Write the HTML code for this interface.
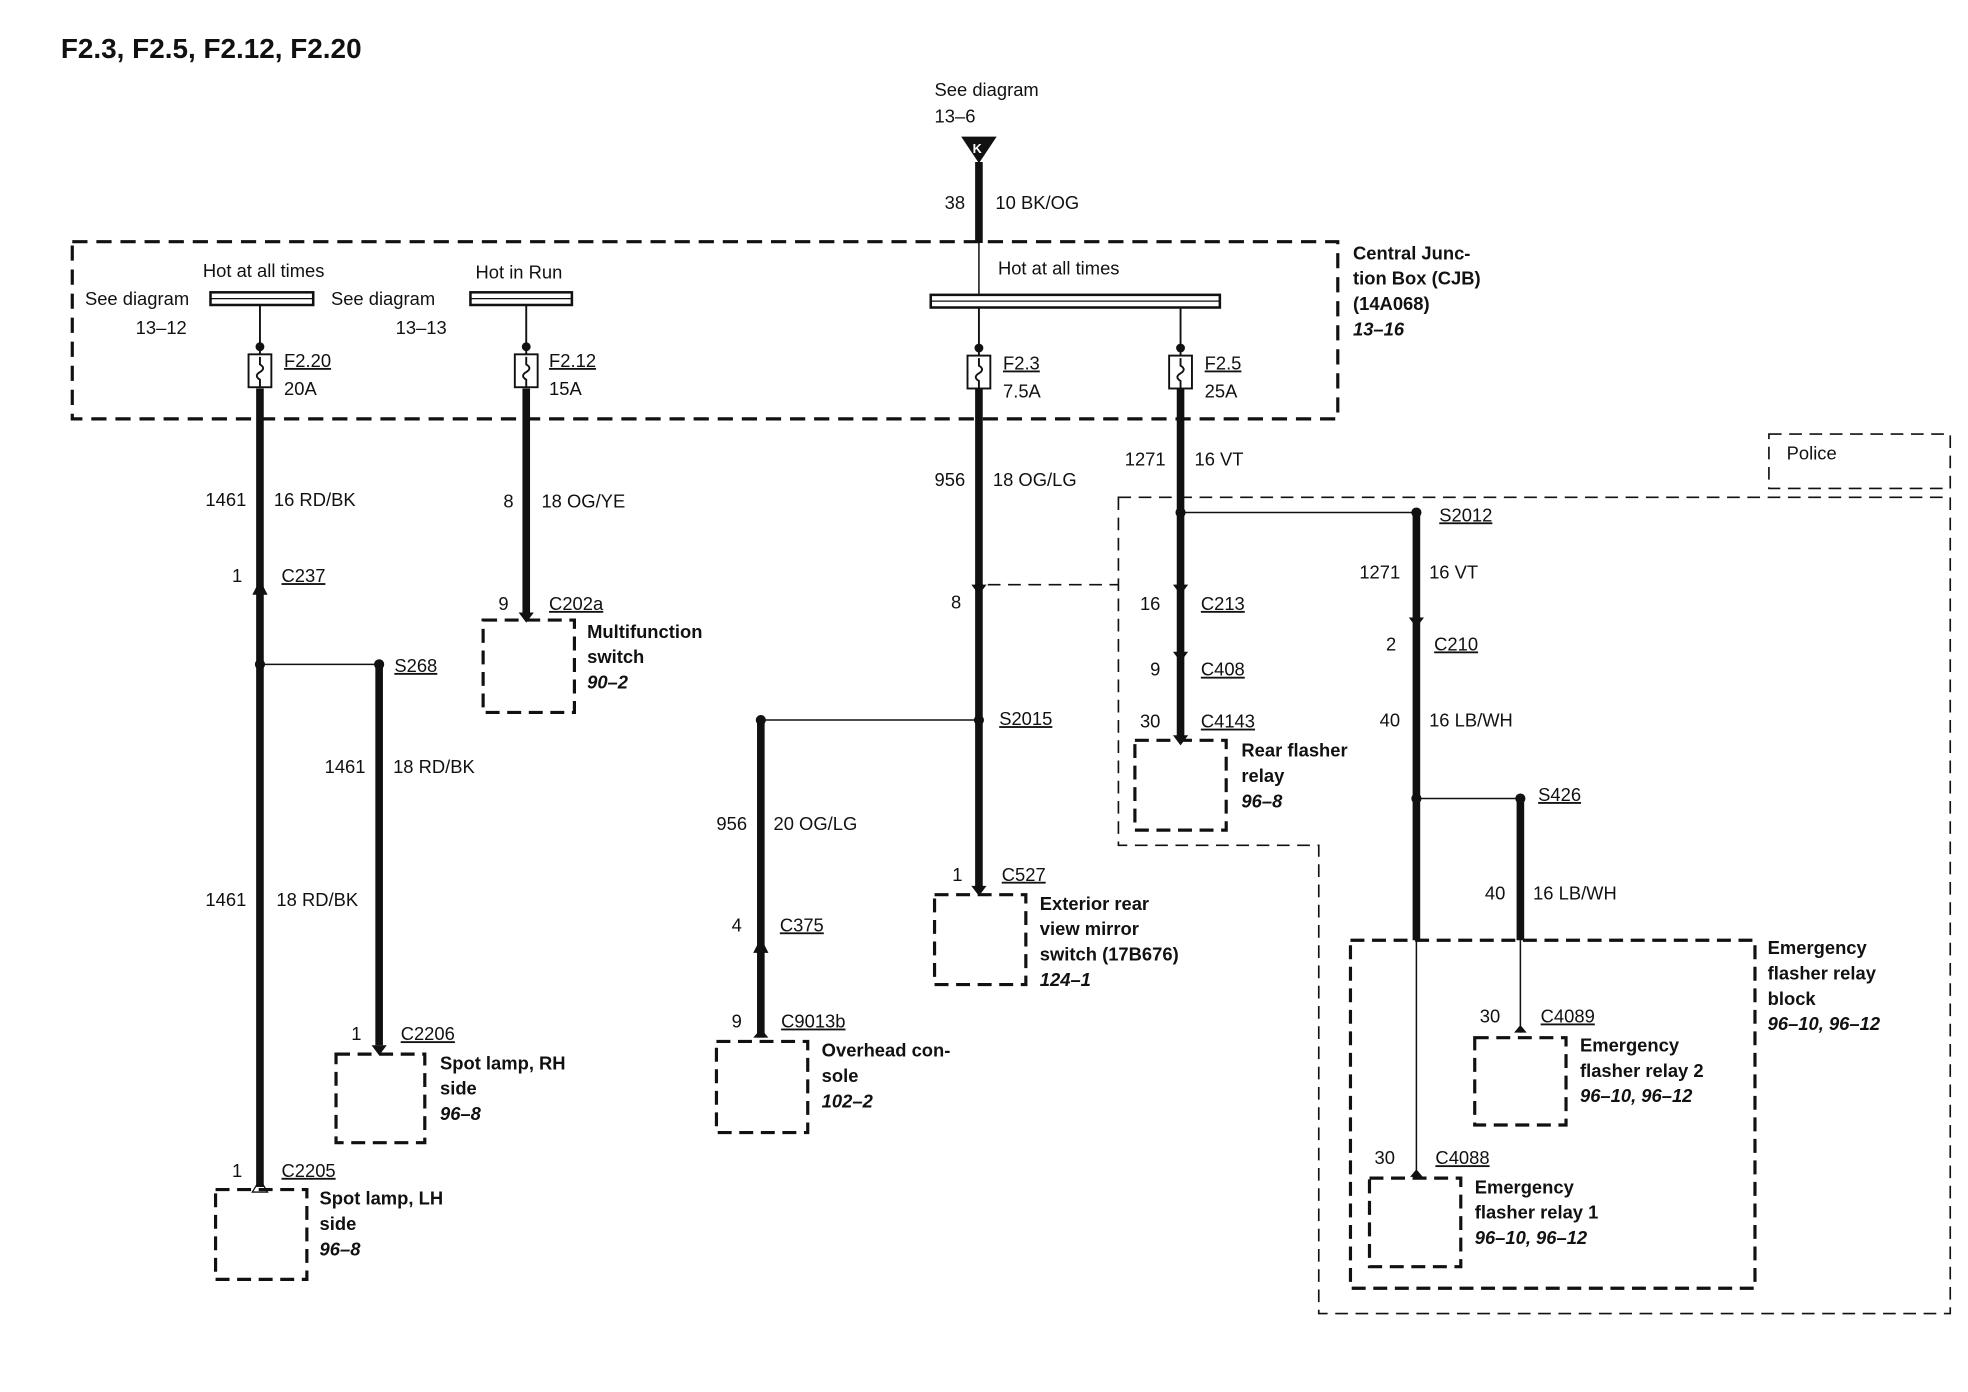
<!DOCTYPE html>
<html><head><meta charset="utf-8"><style>
html,body{margin:0;padding:0;background:#fff;}
svg{display:block;}
text{font-family:"Liberation Sans",sans-serif;font-size:14.5px;fill:#111;}
.b{font-weight:bold;}
.i{font-weight:bold;font-style:italic;}
.u{text-decoration:underline;}
</style></head><body>
<svg width="1968" height="1392" viewBox="0 0 1552 1100" preserveAspectRatio="none" xmlns="http://www.w3.org/2000/svg">
<rect width="1552" height="1100" fill="#fff"/>
<text x="48" y="46" class="b" style="font-size:22px">F2.3, F2.5, F2.12, F2.20</text>

<!-- top source -->
<text x="737" y="76">See diagram</text>
<text x="737" y="97">13–6</text>
<polygon points="758,108 786,108 772,129" fill="#111"/>
<text x="767" y="121" style="font-size:10px;fill:#fff;font-weight:bold">K</text>
<line x1="772" y1="128" x2="772" y2="192" stroke="#111" stroke-width="6"/>
<text x="745" y="165">38</text><text x="785" y="165">10 BK/OG</text>

<!-- CJB box -->
<rect x="57" y="191" width="998" height="140" fill="none" stroke="#111" stroke-width="2.5" stroke-dasharray="12,7"/>
<text x="1067" y="205" class="b">Central Junc-</text>
<text x="1067" y="225" class="b">tion Box (CJB)</text>
<text x="1067" y="245" class="b">(14A068)</text>
<text x="1067" y="265" class="i">13–16</text>

<text x="160" y="219">Hot at all times</text>
<text x="67" y="241">See diagram</text>
<rect x="166" y="231" width="81" height="10" fill="none" stroke="#111" stroke-width="2"/>
<line x1="166" y1="236" x2="247" y2="236" stroke="#111" stroke-width="1"/>
<text x="107" y="264">13–12</text>
<text x="261" y="241">See diagram</text>
<text x="375" y="220">Hot in Run</text>
<rect x="371" y="231" width="80" height="10" fill="none" stroke="#111" stroke-width="2"/>
<line x1="371" y1="236" x2="451" y2="236" stroke="#111" stroke-width="1"/>
<text x="312" y="264">13–13</text>
<text x="787" y="217">Hot at all times</text>
<rect x="734" y="233" width="228" height="10" fill="none" stroke="#111" stroke-width="2"/>
<line x1="734" y1="238" x2="962" y2="238" stroke="#111" stroke-width="1"/>
<line x1="772" y1="192" x2="772" y2="233" stroke="#111" stroke-width="1.2"/>

<!-- fuses -->
<g stroke="#111" fill="none" stroke-width="1.5">
<line x1="205" y1="241" x2="205" y2="280"/><rect x="196" y="280" width="18" height="26"/><path d="M205 282 v6 q5 3 0 6 q-5 3 0 6 v6"/>
<line x1="415" y1="241" x2="415" y2="280"/><rect x="406" y="280" width="18" height="26"/><path d="M415 282 v6 q5 3 0 6 q-5 3 0 6 v6"/>
<line x1="772" y1="243" x2="772" y2="281"/><rect x="763" y="281" width="18" height="26"/><path d="M772 283 v6 q5 3 0 6 q-5 3 0 6 v6"/>
<line x1="931" y1="243" x2="931" y2="281"/><rect x="922" y="281" width="18" height="26"/><path d="M931 283 v6 q5 3 0 6 q-5 3 0 6 v6"/>
</g>
<g fill="#111"><circle cx="205" cy="274" r="3.5"/><circle cx="415" cy="274" r="3.5"/><circle cx="772" cy="275" r="3.5"/><circle cx="931" cy="275" r="3.5"/></g>
<text x="224" y="290" class="u">F2.20</text><text x="224" y="312">20A</text>
<text x="433" y="290" class="u">F2.12</text><text x="433" y="312">15A</text>
<text x="791" y="292" class="u">F2.3</text><text x="791" y="314">7.5A</text>
<text x="950" y="292" class="u">F2.5</text><text x="950" y="314">25A</text>

<!-- thick wires -->
<g stroke="#111" stroke-width="6">
<line x1="205" y1="307" x2="205" y2="938"/>
<line x1="299" y1="525" x2="299" y2="826"/>
<line x1="415" y1="307" x2="415" y2="486"/>
<line x1="772" y1="307" x2="772" y2="702"/>
<line x1="600" y1="569" x2="600" y2="820"/>
<line x1="931" y1="307" x2="931" y2="583"/>
<line x1="1117" y1="405" x2="1117" y2="743"/>
<line x1="1199" y1="631" x2="1199" y2="743"/>
</g>
<g stroke="#111" stroke-width="1.2">
<line x1="205" y1="525" x2="299" y2="525"/>
<line x1="600" y1="569" x2="772" y2="569"/>
<line x1="931" y1="405" x2="1117" y2="405"/>
<line x1="1117" y1="631" x2="1199" y2="631"/>
<line x1="1117" y1="743" x2="1117" y2="928"/>
<line x1="1199" y1="743" x2="1199" y2="816"/>
</g>
<g fill="#111">
<circle cx="205" cy="525" r="4"/><circle cx="299" cy="525" r="4"/>
<circle cx="772" cy="569" r="4"/><circle cx="600" cy="569" r="4"/>
<circle cx="772" cy="462" r="3"/>
<circle cx="931" cy="405" r="4"/><circle cx="1117" cy="405" r="4"/>
<circle cx="1117" cy="631" r="4"/><circle cx="1199" cy="631" r="4"/>
<!-- arrows -->
<polygon points="199,470 211,470 205,458"/>
<polygon points="199,942 211,942 205,932" fill="none" stroke="#111"/>
<polygon points="293,826 305,826 299,834"/>
<polygon points="409,484 421,484 415,492"/>
<polygon points="766,462 778,462 772,470"/>
<polygon points="766,700 778,700 772,708"/>
<polygon points="594,753 606,753 600,741"/>
<polygon points="594,820 606,820 600,813"/>
<polygon points="925,462 937,462 931,470"/>
<polygon points="925,515 937,515 931,523"/>
<polygon points="925,581 937,581 931,589"/>
<polygon points="1111,488 1123,488 1117,496"/>
<polygon points="1194,816 1204,816 1199,810"/>
<polygon points="1112,930 1122,930 1117,924"/>
</g>

<!-- labels -->
<text x="162" y="400">1461</text><text x="216" y="400">16 RD/BK</text>
<text x="183" y="460">1</text><text x="222" y="460" class="u">C237</text>
<text x="311" y="531" class="u">S268</text>
<text x="256" y="611">1461</text><text x="310" y="611">18 RD/BK</text>
<text x="162" y="716">1461</text><text x="218" y="716">18 RD/BK</text>
<text x="277" y="822">1</text><text x="316" y="822" class="u">C2206</text>
<text x="347" y="845" class="b">Spot lamp, RH</text><text x="347" y="865" class="b">side</text><text x="347" y="885" class="i">96–8</text>
<text x="183" y="930">1</text><text x="222" y="930" class="u">C2205</text>
<text x="252" y="952" class="b">Spot lamp, LH</text><text x="252" y="972" class="b">side</text><text x="252" y="992" class="i">96–8</text>

<text x="397" y="401">8</text><text x="427" y="401">18 OG/YE</text>
<text x="393" y="482">9</text><text x="433" y="482" class="u">C202a</text>
<text x="463" y="504" class="b">Multifunction</text><text x="463" y="524" class="b">switch</text><text x="463" y="544" class="i">90–2</text>

<text x="737" y="384">956</text><text x="783" y="384">18 OG/LG</text>
<text x="750" y="481">8</text>
<text x="788" y="573" class="u">S2015</text>
<text x="565" y="656">956</text><text x="610" y="656">20 OG/LG</text>
<text x="577" y="736">4</text><text x="615" y="736" class="u">C375</text>
<text x="577" y="812">9</text><text x="616" y="812" class="u">C9013b</text>
<text x="648" y="835" class="b">Overhead con-</text><text x="648" y="855" class="b">sole</text><text x="648" y="875" class="i">102–2</text>
<text x="751" y="696">1</text><text x="790" y="696" class="u">C527</text>
<text x="820" y="719" class="b">Exterior rear</text><text x="820" y="739" class="b">view mirror</text><text x="820" y="759" class="b">switch (17B676)</text><text x="820" y="779" class="i">124–1</text>

<text x="887" y="368">1271</text><text x="942" y="368">16 VT</text>
<text x="1135" y="412" class="u">S2012</text>
<text x="899" y="482">16</text><text x="947" y="482" class="u">C213</text>
<text x="907" y="534">9</text><text x="947" y="534" class="u">C408</text>
<text x="899" y="575">30</text><text x="947" y="575" class="u">C4143</text>
<text x="979" y="598" class="b">Rear flasher</text><text x="979" y="618" class="b">relay</text><text x="979" y="638" class="i">96–8</text>

<text x="1072" y="457">1271</text><text x="1127" y="457">16 VT</text>
<text x="1093" y="514">2</text><text x="1131" y="514" class="u">C210</text>
<text x="1088" y="574">40</text><text x="1127" y="574">16 LB/WH</text>
<text x="1213" y="633" class="u">S426</text>
<text x="1171" y="711">40</text><text x="1209" y="711">16 LB/WH</text>
<text x="1394" y="754" class="b">Emergency</text><text x="1394" y="774" class="b">flasher relay</text><text x="1394" y="794" class="b">block</text><text x="1394" y="814" class="i">96–10,  96–12</text>
<text x="1167" y="808">30</text><text x="1215" y="808" class="u">C4089</text>
<text x="1246" y="831" class="b">Emergency</text><text x="1246" y="851" class="b">flasher relay 2</text><text x="1246" y="871" class="i">96–10, 96–12</text>
<text x="1084" y="920">30</text><text x="1132" y="920" class="u">C4088</text>
<text x="1163" y="943" class="b">Emergency</text><text x="1163" y="963" class="b">flasher relay 1</text><text x="1163" y="983" class="i">96–10, 96–12</text>

<!-- police region -->
<g fill="none" stroke="#111" stroke-width="1.3" stroke-dasharray="10,6">
<path d="M882 393 H1538 V1038 H1040 V668 H882 Z"/>
<line x1="779" y1="462" x2="882" y2="462"/>
<rect x="1395" y="343" width="143" height="43"/>
</g>
<text x="1409" y="363">Police</text>

<!-- component boxes -->
<g fill="none" stroke="#111" stroke-width="2.5" stroke-dasharray="11,6">
<rect x="265" y="833" width="70" height="70"/>
<rect x="170" y="940" width="72" height="71"/>
<rect x="381" y="490" width="72" height="73"/>
<rect x="565" y="823" width="72" height="72"/>
<rect x="737" y="707" width="72" height="71"/>
<rect x="895" y="585" width="72" height="71"/>
<rect x="1065" y="743" width="319" height="275"/>
<rect x="1163" y="820" width="72" height="69"/>
<rect x="1080" y="931" width="72" height="70"/>
</g>
</svg>
</body></html>
